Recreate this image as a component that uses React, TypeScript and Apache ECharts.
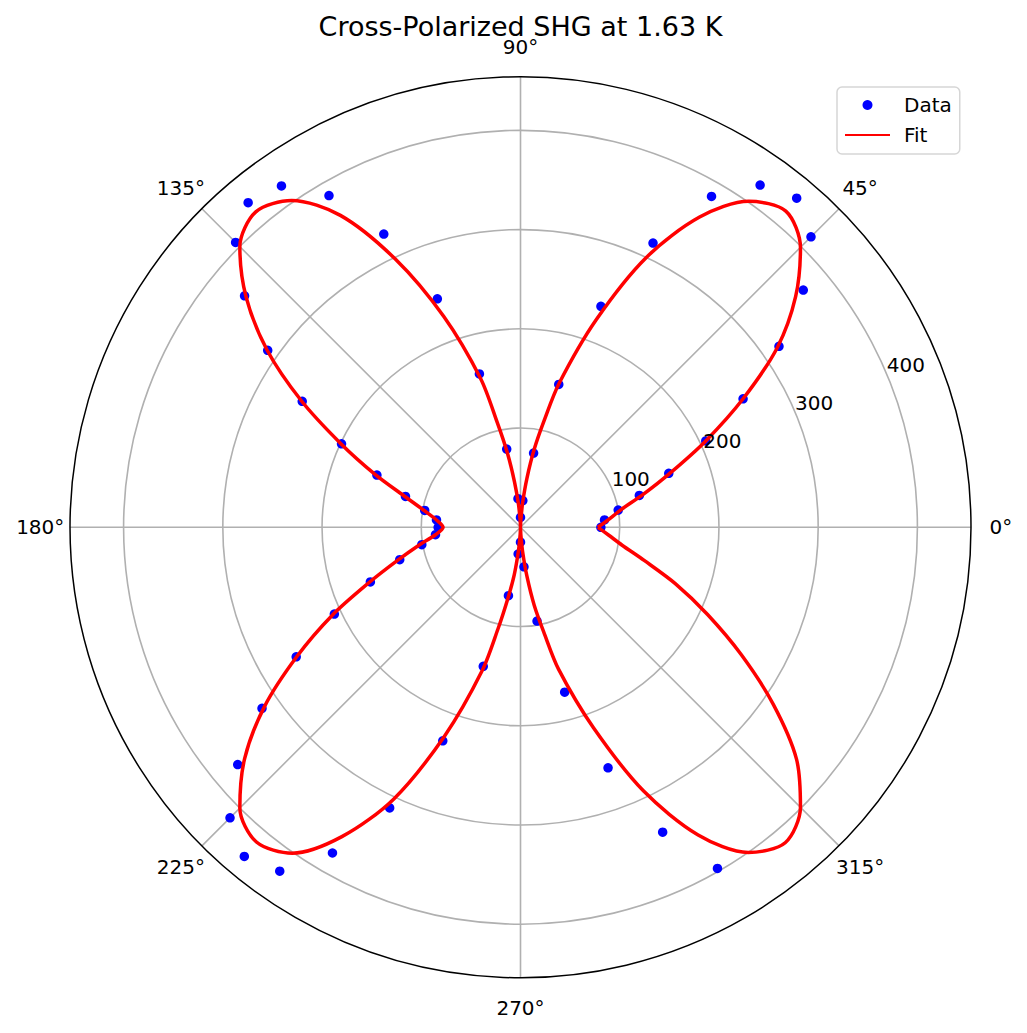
import React, { useEffect, useRef } from "react";
import * as echarts from "echarts";

const titleText = "Cross-Polarized SHG at 1.63 K";

const dataAngles = [
  0, 5, 10, 15, 20, 25, 30, 35, 40, 45,
  50, 55, 60, 65, 70, 75, 80, 85, 90, 95,
  100, 105, 110, 115, 120, 125, 130, 135, 140, 145,
  150, 155, 160, 165, 170, 175, 180, 185, 190, 195,
  200, 205, 210, 215, 220, 225, 230, 235, 240, 245,
  250, 255, 260, 265, 270, 275, 280, 285, 290, 295,
  300,
];
const dataValues = [
  81, 85, 100, 124, 159, 206, 259, 318, 372, 414,
  433, 421, 385, 316, 237, 149, 76, 27, 10, 29,
  80, 160, 245, 326, 386, 420, 427, 406, 363, 311,
  254, 199, 154, 120, 98, 85, 83, 86, 101, 126,
  161, 207, 261, 318, 372, 414, 433, 423, 379, 312,
  229, 145, 70, 27, 15, 40, 96, 172, 258, 339,
  397,
];

const fitAngles = [
  0, 5, 10, 15, 20, 25, 30, 35, 40, 45, 50, 55, 60, 65, 70, 75, 77.5, 80, 82.5, 85, 87.5, 90,
  92.5, 95, 97.5, 100, 102.5, 105, 110, 115, 120, 125, 130, 135, 140, 145, 150, 155, 160, 165, 170, 175, 180,
  185, 190, 195, 200, 205, 210, 215, 220, 225, 230, 235, 240, 245, 250, 255, 257.5, 260, 262.5, 265, 267.5, 270,
  272.5, 275, 277.5, 280, 282.5, 285, 290, 295, 300, 305, 310, 315, 320, 325, 330, 335, 340, 345, 350, 355, 360,
];
const fitValues = [
  78, 89, 103, 128, 161, 206, 259, 316, 362, 399, 416, 401, 361, 300, 222, 150, 110, 80, 50, 25, 7, 0,
  6, 23, 46, 76, 108, 155, 226, 298, 363, 402, 415, 400, 361, 312, 255, 200, 156, 121, 99, 85, 78,
  86, 104, 128, 162, 209, 260, 315, 363, 400, 414, 401, 360, 302, 224, 150, 105, 72, 48, 24, 7, 0,
  7, 25, 50, 80, 108, 148, 215, 293, 358, 400, 415, 399, 363, 311, 257, 208, 166, 129, 104, 89, 78,
];

const radialTicks = [100, 200, 300, 400];
const radialLabelAngle = 22.5;
const angleTicks = [0, 45, 90, 135, 180, 225, 270, 315];
const angleLabelRadius = 484;
const radiusMax = 454;
const angleStep = 45;

const FONT = "DejaVu Sans";

export default function App() {
  const ref = useRef<HTMLDivElement>(null);

  useEffect(() => {
    document.body.style.margin = "0";
    if (!ref.current) return;
    const chart = echarts.init(ref.current, null, { renderer: "svg" });
    const gray = "#b0b0b0";
    const option: any = {
      animation: false,
      backgroundColor: "#ffffff",
      graphic: [
        {
          type: "text",
          x: 520.5,
          y: 26,
          z: 10,
          style: {
            text: titleText,
            fontSize: 27,
            lineHeight: 22,
            fontFamily: FONT,
            fill: "#000",
            align: "center",
            verticalAlign: "middle",
            textAlign: "center",
            textVerticalAlign: "middle",
          },
        },
      ],
      legend: {
        data: [
          { name: "Data" },
          { name: "Fit", itemStyle: { opacity: 0, color: "rgba(0,0,0,0)", borderWidth: 0 } },
        ],
        orient: "vertical",
        left: 837,
        top: 87,
        padding: [8, 8, 9, 7],
        itemWidth: 45,
        itemHeight: 10,
        itemGap: 10,
        backgroundColor: "#ffffff",
        borderColor: "#d6d6d6",
        borderWidth: 1.5,
        borderRadius: 5,
        selectedMode: false,
        textStyle: {
          fontSize: 20,
          fontFamily: FONT,
          color: "#000",
          padding: [0, 0, 0, 9],
        },
      },
      polar: {
        center: [520.5, 527.3],
        radius: 450.5,
      },
      angleAxis: {
        type: "value",
        min: 0,
        max: 360,
        interval: angleStep,
        startAngle: 0,
        clockwise: false,
        axisLine: { show: true, lineStyle: { color: "#000", width: 1.5 } },
        axisTick: { show: false },
        axisLabel: { show: false },
        splitLine: { show: true, lineStyle: { color: gray, width: 1.6 } },
      },
      radiusAxis: {
        type: "value",
        min: 0,
        max: radiusMax,
        interval: 100,
        axisLine: { show: false },
        axisTick: { show: false },
        axisLabel: { show: false },
        splitLine: {
          show: true,
          lineStyle: {
            color: [gray, gray, gray, gray, gray, "rgba(0,0,0,0)"],
            width: 1.6,
          },
        },
      },
      series: [
        {
          name: "Data",
          type: "scatter",
          coordinateSystem: "polar",
          symbol: "circle",
          symbolSize: 9.5,
          itemStyle: { color: "#0000ff", opacity: 1 },
          data: dataAngles.map((a, i) => [dataValues[i], a]),
          z: 3,
        },
        {
          name: "Fit",
          type: "line",
          coordinateSystem: "polar",
          symbol: "none",
          showSymbol: false,
          smooth: 0.3,
          lineStyle: { color: "#ff0000", width: 3.5 },
          itemStyle: { color: "#ff0000" },
          data: fitAngles.map((a, i) => [fitValues[i], a]),
          z: 4,
        },
        {
          name: "rlabels",
          type: "scatter",
          coordinateSystem: "polar",
          symbolSize: 1,
          silent: true,
          itemStyle: { color: "rgba(0,0,0,0)", opacity: 1 },
          label: {
            show: true,
            position: [0, 0],
            align: "left",
            verticalAlign: "bottom",
            fontSize: 20,
            fontFamily: FONT,
            color: "#000",
            opacity: 1,
            formatter: (p: any) => String(p.value[0]),
          },
          data: radialTicks.map((r) => [r, radialLabelAngle]),
          z: 5,
        },
        {
          name: "thetalabels",
          type: "scatter",
          coordinateSystem: "polar",
          symbolSize: 1,
          silent: true,
          clip: false,
          itemStyle: { color: "rgba(0,0,0,0)", opacity: 1 },
          label: {
            show: true,
            position: "inside",
            align: "center",
            verticalAlign: "middle",
            fontSize: 20,
            lineHeight: 16,
            fontFamily: FONT,
            color: "#000",
            opacity: 1,
            formatter: (p: any) => p.value[1] + "°",
          },
          data: angleTicks.map((a) => [angleLabelRadius, a]),
          z: 5,
        },
      ],
    };
    chart.setOption(option);
    return () => chart.dispose();
  }, []);

  return <div ref={ref} style={{ width: 1027, height: 1033 }} />;
}
